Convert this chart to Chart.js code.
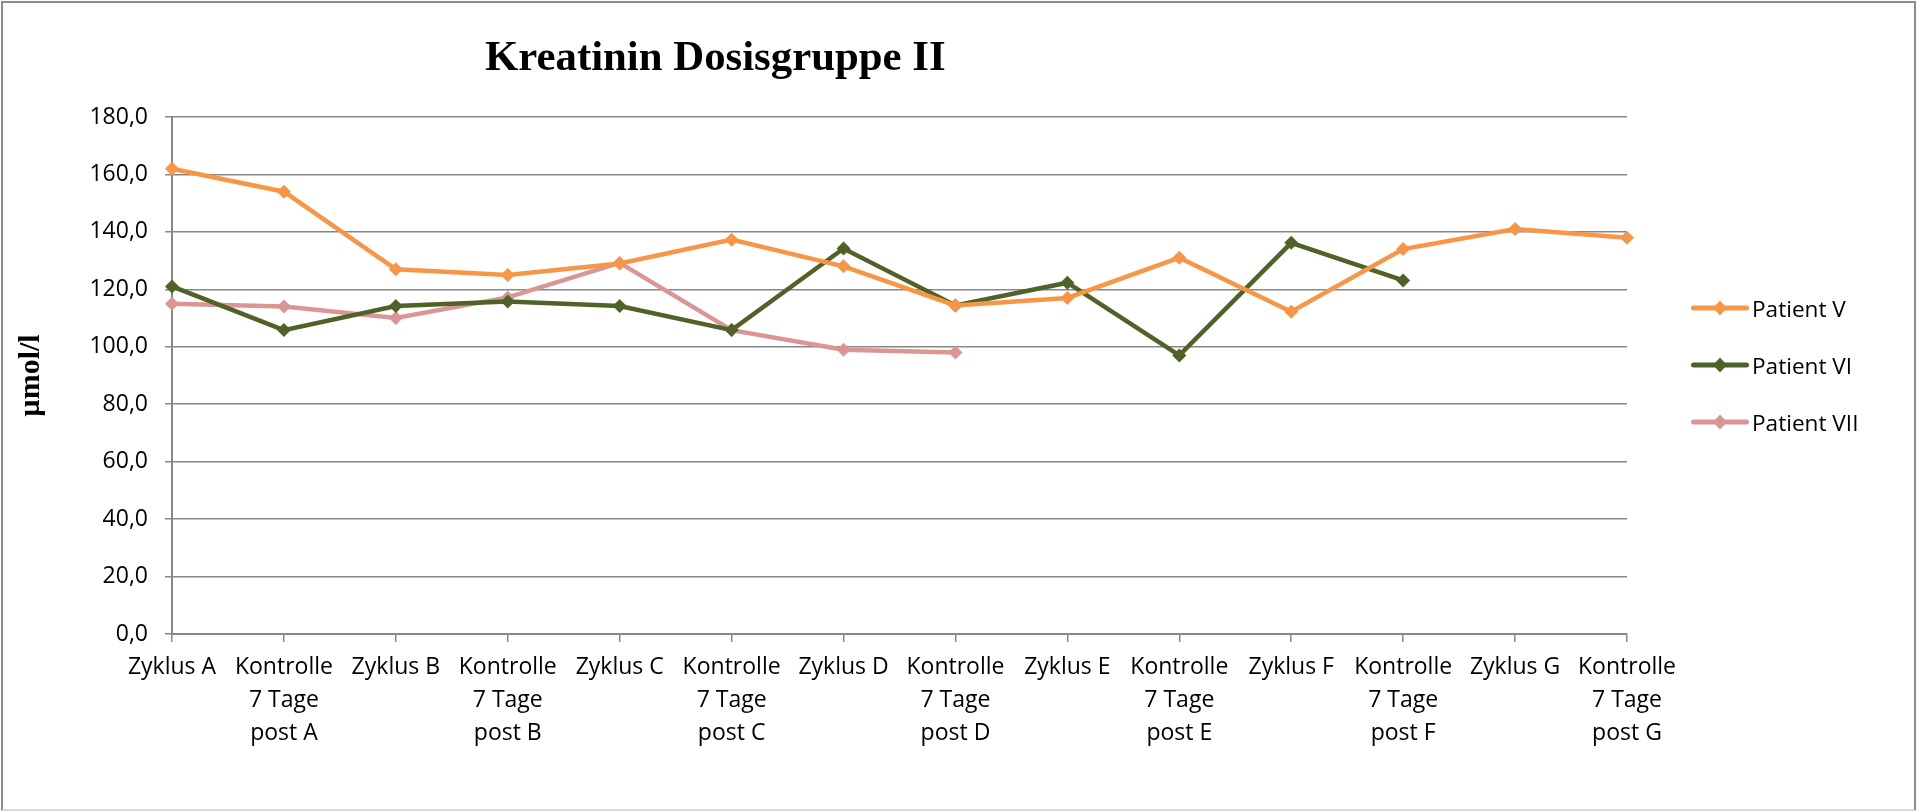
<!DOCTYPE html>
<html>
<head>
<meta charset="utf-8">
<script src="https://cdn.jsdelivr.net/npm/chart.js@4.4.1/dist/chart.umd.min.js"></script>
<style>
  html, body { margin: 0; padding: 0; background: #fff; }
  #wrap { position: relative; width: 1917px; height: 811px; overflow: hidden; }
  #frame { position: absolute; left: 1px; top: 1px; width: 1911px; height: 806px;
           border: 2px solid #8c8c8c; border-bottom-color: #d9d9d9; box-sizing: content-box; }
  #chartBox { position: absolute; left: 0; top: 0; width: 1917px; height: 811px; }
  #title { position: absolute; left: 485px; top: 35px; font-family: "Liberation Serif", "Times New Roman", serif;
           font-weight: bold; font-size: 42.8px; line-height: 42px; white-space: nowrap; color: #000; }
  .leg { position: absolute; left: 1691px; height: 30px; display: flex; align-items: center;
         font-family: "Open Sans", sans-serif; font-size: 22.6px; color: #000; white-space: nowrap; }
  .leg svg { margin-right: 3px; }
</style>
</head>
<body>
<div id="wrap">
  <div id="chartBox"><canvas id="c"></canvas></div>
  <div id="frame"></div>
  <div id="title">Kreatinin Dosisgruppe II</div>
  <div id="legend"></div>
</div>
<script>
const chartTitle = "Kreatinin Dosisgruppe II";
const yAxisTitle = "µmol/l";
const categories = [
  "Zyklus A", ["Kontrolle", "7 Tage", "post A"],
  "Zyklus B", ["Kontrolle", "7 Tage", "post B"],
  "Zyklus C", ["Kontrolle", "7 Tage", "post C"],
  "Zyklus D", ["Kontrolle", "7 Tage", "post D"],
  "Zyklus E", ["Kontrolle", "7 Tage", "post E"],
  "Zyklus F", ["Kontrolle", "7 Tage", "post F"],
  "Zyklus G", ["Kontrolle", "7 Tage", "post G"]
];
const seriesNames = ["Patient V", "Patient VI", "Patient VII"];
const patientV   = [162, 154, 127, 125, 129, 137.3, 128, 114.4, 117, 131, 112.2, 134, 141, 138];
const patientVI  = [121, 105.8, 114.2, 115.8, 114.2, 105.8, 134.2, 114.4, 122.3, 97, 136.2, 123.1, null, null];
const patientVII = [115, 114, 110, 117.2, 129.2, 105.8, 99, 98, null, null, null, null, null, null];
const seriesColors = ["#F79646", "#4F6228", "#D99694"];
const yTicks = { min: 0, max: 180, step: 20 };

const seriesData = [patientV, patientVI, patientVII];

const datasets = seriesData.map((d, i) => ({
  label: seriesNames[i],
  data: d,
  borderColor: seriesColors[i],
  backgroundColor: seriesColors[i],
  borderWidth: 4.5,
  pointStyle: 'rectRot',
  pointRadius: 7,
  pointBorderWidth: 0,
  pointBackgroundColor: seriesColors[i],
  tension: 0,
  spanGaps: false
}));

const gridColor = "#878787";
const tickFont = { family: "Open Sans", size: 23 };

new Chart(document.getElementById('c'), {
  type: 'line',
  data: { labels: categories, datasets },
  options: {
    responsive: true,
    maintainAspectRatio: false,
    animation: false,
    events: [],
    layout: { padding: { top: 117, right: 290, bottom: 0, left: 0 } },
    plugins: { legend: { display: false }, title: { display: false }, tooltip: { enabled: false } },
    scales: {
      x: {
        offset: false,
        grid: { drawOnChartArea: false, drawTicks: true, tickLength: 8, color: gridColor, lineWidth: 1.5 },
        border: { display: true, color: gridColor, width: 2 },
        ticks: { font: { ...tickFont, lineHeight: 1.435 }, color: "#000", padding: 9, maxRotation: 0, autoSkip: false },
        afterFit: (s) => { s.height = 177; }
      },
      y: {
        min: yTicks.min, max: yTicks.max,
        grid: { color: gridColor, lineWidth: 1.5, drawTicks: true, tickLength: 7 },
        border: { display: true, color: gridColor, width: 2 },
        ticks: { stepSize: yTicks.step, font: tickFont, color: "#000", padding: 17,
                 callback: (v) => Number(v).toFixed(1).replace('.', ',') },
        title: { display: true, text: yAxisTitle, color: "#000",
                 font: { family: "Liberation Serif", weight: 'bold', size: 30, lineHeight: 1.2 },
                 padding: { top: 13, bottom: 0 } },
        afterFit: (s) => { s.width = 172; }
      }
    }
  }
});

// HTML legend built from series arrays
const legend = document.getElementById('legend');
const legendRowsY = [308, 365, 422];
seriesNames.forEach((name, i) => {
  const row = document.createElement('div');
  row.className = 'leg';
  row.style.top = (legendRowsY[i] - 15) + 'px';
  const c = seriesColors[i];
  row.innerHTML = '<svg width="58" height="20" viewBox="0 0 58 20">' +
    '<line x1="2.5" y1="10" x2="55.5" y2="10" stroke="' + c + '" stroke-width="5" stroke-linecap="round"/>' +
    '<polygon points="29,2.5 36,10 29,17.5 22,10" fill="' + c + '"/></svg>' +
    '<span>' + name + '</span>';
  legend.appendChild(row);
});
</script>
</body>
</html>
